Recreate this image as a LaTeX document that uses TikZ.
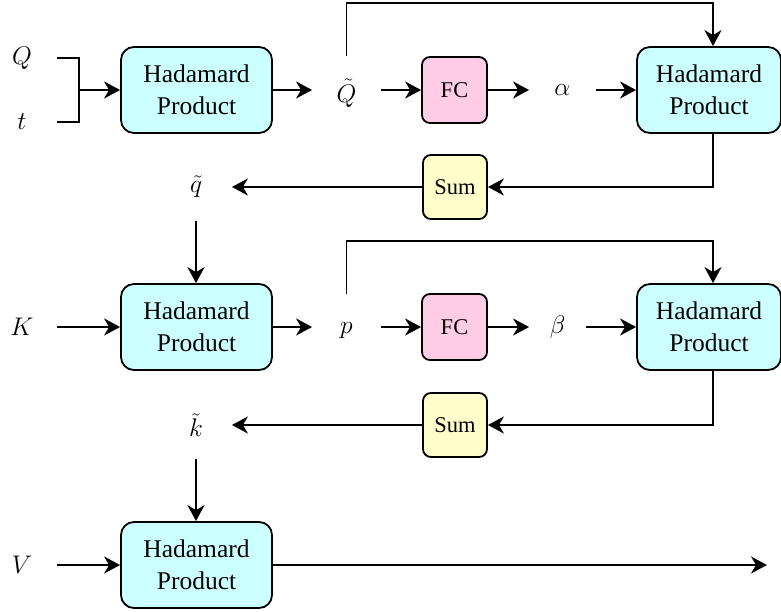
\RequirePackage{fix-cm}
\documentclass[tikz,border=0pt]{standalone}
\usepackage{fontspec}
\setmainfont{Liberation Serif}
\usetikzlibrary{arrows.meta,calc}
\definecolor{hadcyan}{HTML}{CCFFFF}
\definecolor{fcpink}{HTML}{FFCCE6}
\definecolor{sumyellow}{HTML}{FFFFCC}
\begin{document}
\begin{tikzpicture}[x=1pt,y=-1pt,
  line width=1.8pt,
  arr/.style={-{Stealth[length=16pt,width=17pt,inset=5pt]}},
  hbox/.style={draw, rounded corners=13pt, fill=hadcyan, minimum width=151pt,
    minimum height=86pt, align=center, inner sep=0pt,
    font=\fontsize{25.5}{32}\selectfont},
  fcbox/.style={draw, rounded corners=8pt, fill=fcpink, minimum width=65pt,
    minimum height=66pt, inner sep=0pt, font=\fontsize{22.5}{26}\selectfont},
  sumbox/.style={draw, rounded corners=8pt, fill=sumyellow, minimum width=64pt,
    minimum height=64pt, inner sep=0pt, font=\fontsize{22.5}{26}\selectfont},
  mathn/.style={inner sep=0pt, minimum height=30pt,
    font=\fontsize{25.5}{30}\selectfont}]
\useasboundingbox (0,0) rectangle (781,612);
\clip (0,0) rectangle (781,612);

% first stage: query and time
\node[mathn, minimum width=68pt] (Q) at (22,58) {$Q$};
\node[mathn, minimum width=68pt] (t) at (22,122) {$t$};
\node[hbox] (hp1) at (196.5,90) {Hadamard\\Product};
\node[mathn, minimum width=67pt, minimum height=72pt] (Qt) at (346.5,93) {$\tilde{Q}$};
\node[fcbox] (fc1) at (454.5,90) {FC};
\node[mathn, minimum width=65pt] (al) at (562.5,90) {$\alpha$};
\node[hbox, minimum width=144pt] (hp2) at (709,90) {Hadamard\\Product};
\node[sumbox] (s1) at (455,187) {Sum};
\node[mathn, minimum width=70pt, minimum height=66pt] (qs) at (196,187) {$\tilde{q}$};

% second stage: key
\node[mathn, minimum width=68pt] (K) at (22,327) {$K$};
\node[hbox] (hp3) at (196.5,327) {Hadamard\\Product};
\node[mathn, minimum width=67pt, minimum height=70pt] (p) at (346.5,330) {$p$};
\node[fcbox] (fc2) at (454.5,327) {FC};
\node[mathn, minimum width=55pt] (be) at (557.5,327) {$\beta$};
\node[hbox, minimum width=144pt] (hp4) at (709,327) {Hadamard\\Product};
\node[sumbox] (s2) at (455,425) {Sum};
\node[mathn, minimum width=70pt, minimum height=66pt] (ks) at (196,425) {$\tilde{k}$};

% third stage: value
\node[mathn, minimum width=68pt] (V) at (22,565) {$V$};
\node[hbox] (hp5) at (196.5,565) {Hadamard\\Product};
\coordinate (out) at (767,565);

% bracket joining Q and t
\draw (Q.east) -- ++(22,0) |- (t.east);
\coordinate (br) at ($(Q.east)!0.5!(t.east)+(22,0)$);
\draw[arr] (br) -- (br -| hp1.west);

% first row connectors
\draw[arr] (hp1.east) -- (hp1.east -| Qt.west);
\draw[arr] (Qt.east |- fc1.west) -- (fc1.west);
\draw[arr] (fc1.east) -- (al.west);
\draw[arr] (al.east) -- (hp2.west);
\draw[arr] (Qt.north) -- ++(0,-53) -| ([xshift=4pt]hp2.north);
\draw[arr] ([xshift=4pt]hp2.south) |- (s1.east);
\draw[arr] (s1.west) -- (qs.east);
\draw[arr] (qs.south) -- (qs.south |- hp3.north);

% second row connectors
\draw[arr] (K.east) -- (hp3.west);
\draw[arr] (hp3.east) -- (hp3.east -| p.west);
\draw[arr] (p.east |- fc2.west) -- (fc2.west);
\draw[arr] (fc2.east) -- (be.west);
\draw[arr] (be.east) -- (hp4.west);
\draw[arr] (p.north) -- ++(0,-53) -| ([xshift=4pt]hp4.north);
\draw[arr] ([xshift=4pt]hp4.south) |- (s2.east);
\draw[arr] (s2.west) -- (ks.east);
\draw[arr] (ks.south) -- (ks.south |- hp5.north);

% third row connectors
\draw[arr] (V.east) -- (hp5.west);
\draw[arr] (hp5.east) -- (out);
\end{tikzpicture}
\end{document}
